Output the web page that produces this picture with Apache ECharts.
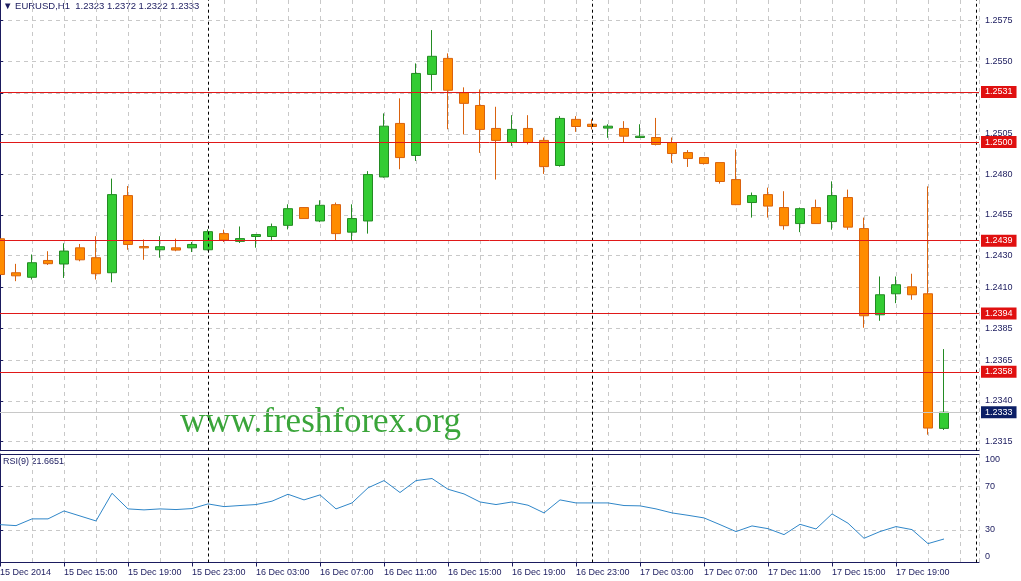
<!DOCTYPE html>
<html>
<head>
<meta charset="utf-8">
<script src="https://cdn.jsdelivr.net/npm/echarts@6/dist/echarts.min.js"></script>
<style>
html,body{margin:0;padding:0;background:#fff;}
#chart{width:1021px;height:581px;}
</style>
</head>
<body>
<div id="chart"></div>
<script>
// ---- data (EURUSD H1, bars from 15 Dec 11:00 to 17 Dec 22:00) ----
const symbol = 'EURUSD,H1';
const opens  = [1.24402,1.24192,1.24164,1.24268,1.24246,1.24346,1.24285,1.24192,1.24669,1.24354,
                1.24334,1.24346,1.24346,1.24334,1.24434,1.24386,1.24416,1.24416,1.24485,1.24595,
                1.24512,1.24613,1.24443,1.24512,1.24784,1.25115,1.24917,1.25418,1.25517,1.25304,
                1.25226,1.25084,1.24997,1.25084,1.25010,1.24855,1.25140,1.25110,1.25086,1.25084,
                1.25028,1.25028,1.24997,1.24935,1.24904,1.24873,1.24768,1.24626,1.24675,1.24595,
                1.24496,1.24595,1.24508,1.24657,1.24465,1.23932,1.24062,1.24105,1.24062,1.23230];
const highs  = [1.24450,1.24247,1.24305,1.24325,1.24374,1.24370,1.24418,1.24774,1.24728,1.24398,
                1.24418,1.24403,1.24382,1.24460,1.24458,1.24478,1.24430,1.24496,1.24615,1.24597,
                1.24640,1.24626,1.24615,1.24820,1.25177,1.25270,1.25486,1.25692,1.25548,1.25338,
                1.25325,1.25218,1.25166,1.25166,1.25028,1.25160,1.25160,1.25140,1.25110,1.25129,
                1.25110,1.25149,1.25028,1.24950,1.24904,1.24873,1.24954,1.24688,1.24718,1.24696,
                1.24595,1.24644,1.24757,1.24706,1.24533,1.24169,1.24169,1.24186,1.24726,1.23720];
const lows   = [1.24160,1.24140,1.24150,1.24240,1.24160,1.24263,1.24150,1.24133,1.24334,1.24272,
                1.24285,1.24325,1.24320,1.24330,1.24382,1.24376,1.24347,1.24388,1.24460,1.24525,
                1.24505,1.24392,1.24388,1.24434,1.24780,1.24832,1.24883,1.25317,1.25079,1.25047,
                1.24933,1.24768,1.24976,1.24985,1.24803,1.24848,1.25063,1.25078,1.25026,1.24997,
                1.25028,1.24979,1.24871,1.24846,1.24861,1.24743,1.24610,1.24533,1.24533,1.24458,
                1.24443,1.24496,1.24458,1.24458,1.23852,1.23895,1.24004,1.24025,1.23191,1.23220];
const closes = [1.24181,1.24173,1.24254,1.24248,1.24326,1.24272,1.24186,1.24675,1.24367,1.24346,
                1.24353,1.24332,1.24367,1.24446,1.24394,1.24403,1.24428,1.24477,1.24588,1.24527,
                1.24609,1.24434,1.24527,1.24799,1.25098,1.24904,1.25424,1.25530,1.25320,1.25239,
                1.25078,1.25010,1.25078,1.24997,1.24848,1.25146,1.25096,1.25096,1.25098,1.25036,
                1.25036,1.24985,1.24929,1.24898,1.24867,1.24756,1.24613,1.24669,1.24604,1.24483,
                1.24588,1.24496,1.24669,1.24474,1.23926,1.24056,1.24118,1.24056,1.23232,1.23330];
const rsi    = [34.9,34.0,40.2,40.2,47.5,42.9,38.3,63.8,49.4,48.5,
                49.4,48.8,49.7,54.0,51.5,52.5,53.4,56.5,62.9,57.7,
                62.3,49.4,54.9,68.8,75.5,64.5,75.5,77.4,67.5,63.2,
                55.8,53.4,55.8,52.8,45.7,57.7,54.9,54.9,54.9,52.5,
                52.2,49.4,45.7,43.5,41.1,34.9,28.5,33.7,31.2,25.7,
                35.2,30.9,44.8,36.2,22.3,28.5,33.1,30.3,17.4,21.6651];
const lastBar = {open: 1.2323, high: 1.2372, low: 1.2322, close: 1.2333};
const priceTicks = [1.2315,1.2340,1.2365,1.2385,1.2410,1.2430,1.2455,1.2480,1.2505,1.2530,1.2550,1.2575];
const levels = [1.2531,1.2500,1.2439,1.2394,1.2358];
const tickBars = [0,4,8,12,16,20,24,28,32,36,40,44,48,52,56];
const tickLabels = ['15 Dec 2014','15 Dec 15:00','15 Dec 19:00','15 Dec 23:00','16 Dec 03:00',
                    '16 Dec 07:00','16 Dec 11:00','16 Dec 15:00','16 Dec 19:00','16 Dec 23:00',
                    '17 Dec 03:00','17 Dec 07:00','17 Dec 11:00','17 Dec 15:00','17 Dec 19:00'];
const daySeparators = [13,37,61];
const rsiLabelTicks = [0,30,70,100];
const rsiLevels = [30,70];
const rsiPeriod = 9;

// ---- chart ----
const FONT = 'Tahoma, "Liberation Sans", Arial, sans-serif';
const NAVY = '#1b1b5e';
const GRIDC = '#c8c8c8';
const xMax = 61.1875;
const yMin = 1.23092, yMax = 1.25878;

const candleData = opens.map((o, i) => [i, o, closes[i], lows[i], highs[i]]);
const rsiData = rsi.map((v, i) => [i, v]);

const sepLines = daySeparators.map(b => ({xAxis: b}));
const levelLines = levels.map(v => ({
  yAxis: v,
  lineStyle: {color: '#e01818', width: 1, type: 'solid'},
  label: {show: true, position: 'end', distance: 2, formatter: v.toFixed(4),
          color: '#fff', backgroundColor: '#e01010', padding: [2, 4, 1, 4],
          fontFamily: FONT, fontSize: 9}
}));
const bidLine = {
  yAxis: lastBar.close,
  lineStyle: {color: '#c8c8c8', width: 1, type: 'solid'},
  label: {show: true, position: 'end', distance: 2, formatter: lastBar.close.toFixed(4),
          color: '#fff', backgroundColor: '#0c1f66', padding: [2, 4, 1, 4],
          fontFamily: FONT, fontSize: 9}
};

const chart = echarts.init(document.getElementById('chart'), null, {renderer: 'canvas'});
chart.setOption({
  animation: false,
  backgroundColor: '#ffffff',
  grid: [
    {left: 0, top: 0, width: 979, height: 450.7, outerBoundsMode: 'none', containLabel: false},
    {left: 0, top: 454, width: 979, height: 108.5, outerBoundsMode: 'none', containLabel: false}
  ],
  xAxis: [
    {gridIndex: 0, type: 'value', min: 0, max: xMax, interval: 2, position: 'bottom',
     axisLine: {show: true, lineStyle: {color: NAVY, width: 1}}, axisTick: {show: false},
     axisLabel: {show: false}, splitLine: {show: true, lineStyle: {color: GRIDC, type: [4, 4]}}},
    {gridIndex: 1, type: 'value', min: 0, max: xMax, interval: 2, position: 'bottom',
     axisLine: {show: true, lineStyle: {color: NAVY, width: 1}}, axisTick: {show: false},
     axisLabel: {show: false}, splitLine: {show: true, lineStyle: {color: GRIDC, type: [4, 4]}}},
    {gridIndex: 1, type: 'value', min: 0, max: xMax, position: 'bottom',
     axisLine: {show: false},
     axisTick: {show: true, length: 4, customValues: tickBars, lineStyle: {color: NAVY}},
     axisLabel: {show: true, customValues: tickBars, align: 'left', margin: 6,
                 color: NAVY, fontFamily: FONT, fontSize: 9,
                 formatter: v => { const k = tickBars.indexOf(Math.round(v)); return k >= 0 ? tickLabels[k] : ''; }},
     splitLine: {show: false}},
    {gridIndex: 1, type: 'value', min: 0, max: xMax, position: 'top',
     axisLine: {show: true, lineStyle: {color: NAVY, width: 1}}, axisTick: {show: false},
     axisLabel: {show: false}, splitLine: {show: false}}
  ],
  yAxis: [
    {gridIndex: 0, type: 'value', position: 'right', min: yMin, max: yMax, scale: true,
     axisLine: {show: true, lineStyle: {color: NAVY, width: 1}},
     axisTick: {show: true, length: 3, inside: false, customValues: priceTicks, lineStyle: {color: NAVY}},
     axisLabel: {show: true, customValues: priceTicks, margin: 6, color: NAVY, fontFamily: FONT, fontSize: 9,
                 formatter: v => v.toFixed(4)},
     splitLine: {show: true, lineStyle: {color: GRIDC, type: [4, 4]}}},
    {gridIndex: 1, type: 'value', position: 'right', min: 0, max: 100,
     axisLine: {show: true, lineStyle: {color: NAVY, width: 1}},
     axisTick: {show: true, length: 3, customValues: rsiLevels, lineStyle: {color: NAVY}},
     axisLabel: {show: true, customValues: rsiLabelTicks, margin: 6, color: NAVY, fontFamily: FONT, fontSize: 9,
                 formatter: v => v === 100 ? '{t|100}' : (v === 0 ? '{b|0}' : String(v)),
                 rich: {t: {padding: [12, 0, 0, 0], color: NAVY, fontFamily: FONT, fontSize: 9},
                        b: {padding: [0, 0, 12, 0], color: NAVY, fontFamily: FONT, fontSize: 9}}},
     splitLine: {show: true, lineStyle: {color: GRIDC, type: [4, 4]}}}
  ],
  series: [
    {
      type: 'candlestick', xAxisIndex: 0, yAxisIndex: 0,
      data: candleData, encode: {x: 0, y: [1, 2, 3, 4]},
      barWidth: 9,
      itemStyle: {color: '#33cc33', color0: '#ff8c00', borderColor: '#238b23', borderColor0: '#d9620e', borderWidth: 1},
      markLine: {
        silent: true, symbol: ['none', 'none'], animation: false, precision: 5,
        data: [
          bidLine,
          ...sepLines.map(d => Object.assign({lineStyle: {color: '#000', type: [3, 3], width: 1}, label: {show: false}}, d)),
          ...levelLines
        ]
      }
    },
    {
      type: 'line', xAxisIndex: 1, yAxisIndex: 1,
      data: rsiData, symbol: 'none', showSymbol: false,
      lineStyle: {color: '#2f86c8', width: 1},
      markLine: {
        silent: true, symbol: ['none', 'none'], animation: false, precision: 5,
        lineStyle: {color: '#000', type: [3, 3], width: 1}, label: {show: false},
        data: sepLines
      }
    }
  ],
  graphic: [
    {type: 'text', left: 3, top: 1, silent: true,
     style: {text: '\u25BC ' + symbol + '  ' + [lastBar.open, lastBar.high, lastBar.low, lastBar.close].map(v => v.toFixed(4)).join(' '),
             fill: NAVY, font: '9.5px ' + FONT}},
    {type: 'text', left: 3, top: 457, silent: true,
     style: {text: 'RSI(' + rsiPeriod + ') ' + rsi[rsi.length - 1].toFixed(4), fill: NAVY, font: '9px ' + FONT}},
    {type: 'text', left: 180, top: 405, silent: true, z: 1,
     style: {text: 'www.freshforex.org', fill: '#3aa53a', font: '35px "Liberation Serif", "DejaVu Serif", serif'}}
  ]
});
</script>
</body>
</html>
